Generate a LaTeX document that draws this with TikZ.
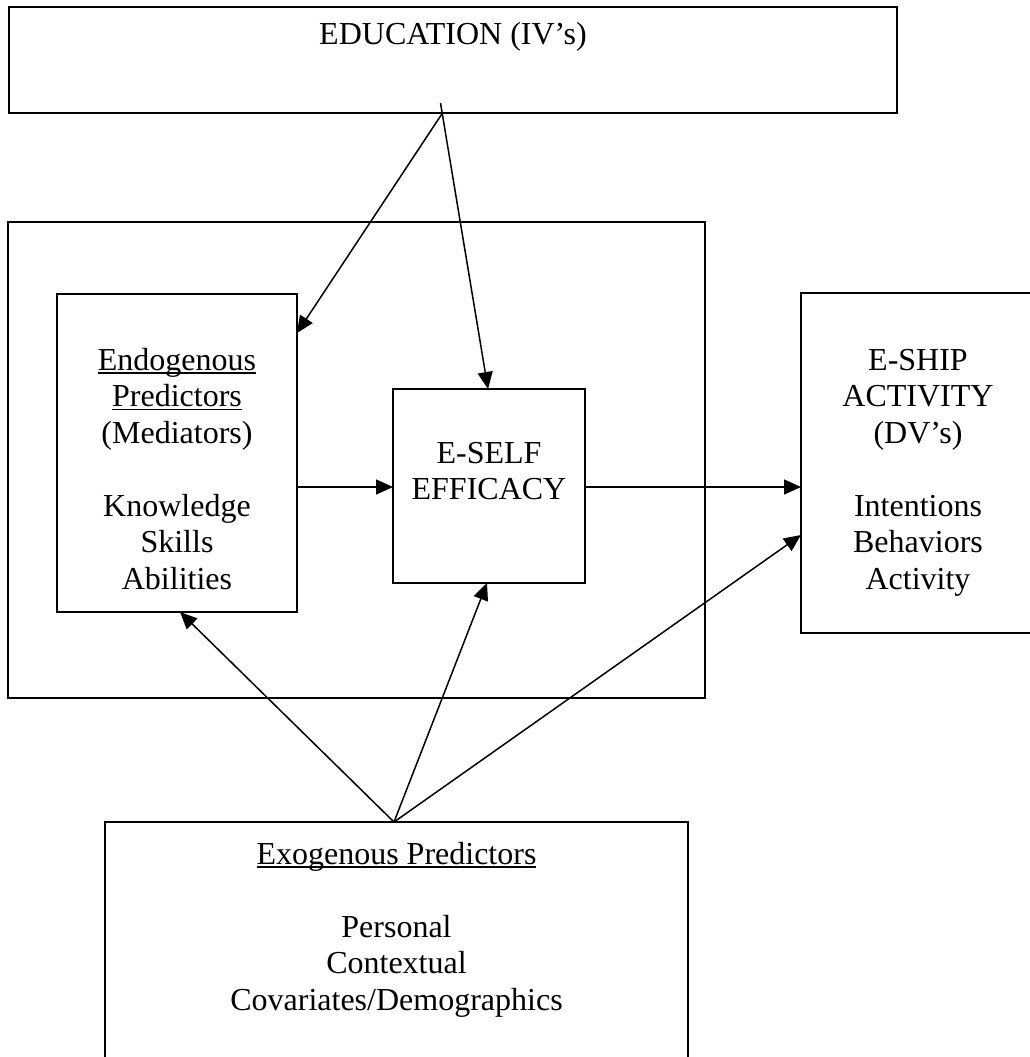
\documentclass[tikz,border=0pt]{standalone}
\usepackage{fontspec}
\setmainfont{Liberation Serif}
\usetikzlibrary{arrows.meta,calc,fit}
% underline set just below the baseline, as a word processor draws it
\newlength\ulwd
\newcommand\ulword[1]{\settowidth\ulwd{#1}\rlap{#1}\rule[-3.5pt]{\ulwd}{1.4pt}}

\begin{document}
\begin{tikzpicture}[x=1pt,y=-1pt,
  box/.style={draw,line width=1.9pt,inner sep=0pt,outer sep=0pt,rectangle},
  txt/.style={align=center,inner sep=0pt,anchor=north,font=\fontsize{32}{36.5}\selectfont},
  link/.style={line width=1.5pt,-{Triangle[length=17pt,width=15pt]}}]
\useasboundingbox (0,0) rectangle (1029,1057);

% boxes
\node[box,fit={(9,7) (897,113)}] (edu) {};
\node[box,fit={(8,222) (705,698)}] (core) {};
\node[box,fit={(57,294) (297,612)}] (endo) {};
\node[box,fit={(393,389) (585,583)}] (self) {};
\node[box,fit={(801,293) (1035,633)}] (ship) {};
\node[box,fit={(105,822) (688,1070)}] (exo) {};

% texts (first baseline sits 25.55 below each anchor)
\node[txt] (edutxt) at (453,18.5) {\strut EDUCATION (IV’s)};
\node[txt] (endotxt) at (177,344.5) {\strut\ulword{Endogenous}\\\ulword{Predictors}\\(Mediators)\\[36.5pt]Knowledge\\Skills\\Abilities};
\node[txt] (selftxt) at (489,437.5) {\strut E-SELF\\EFFICACY};
\node[txt] (shiptxt) at (918,344.5) {\strut E-SHIP\\ACTIVITY\\(DV’s)\\[36.5pt]Intentions\\Behaviors\\Activity};
\node[txt] (exotxt) at (396.5,838.5) {\strut\ulword{Exogenous Predictors}\\[36.5pt]Personal\\Contextual\\Covariates/Demographics};

% common origin of the exogenous arrows
\coordinate (hub) at ([xshift=-2.5pt]exo.north);

% connectors
\draw[link] ([xshift=-10.5pt]edu.south) -- ([yshift=-39pt]endo.north east);
\draw[link] ([xshift=-12.5pt,yshift=10pt]edu.south) -- ([xshift=-1pt]self.north);
\draw[link] ([yshift=-34pt]endo.east) -- ([yshift=-1pt]self.west);
\draw[link] ([yshift=-1pt]self.east) -- ([yshift=-24pt]ship.west);
\draw[link] (hub) -- ([xshift=3pt]endo.south);
\draw[link] (hub) -- ([xshift=-2pt]self.south);
\draw[link] (hub) -- ([yshift=-72pt]ship.west);
\end{tikzpicture}
\end{document}
